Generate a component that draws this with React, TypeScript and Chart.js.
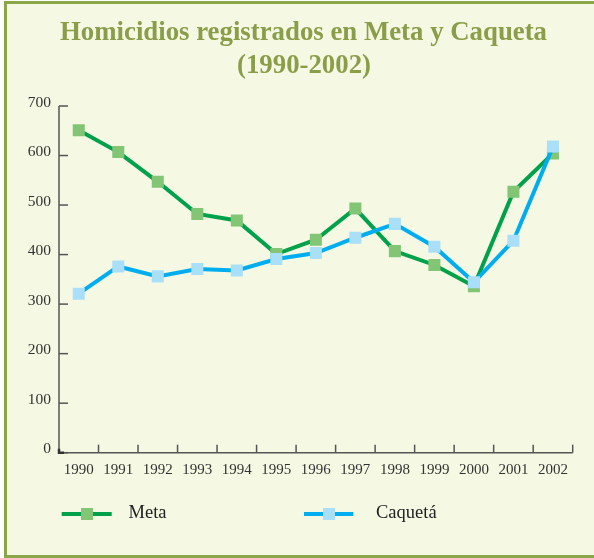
import React, { useEffect, useRef } from "react";
import { Chart, registerables } from "chart.js";

Chart.register(...registerables);

const years = ["1990", "1991", "1992", "1993", "1994", "1995", "1996", "1997", "1998", "1999", "2000", "2001", "2002"];
const metaValues = [651, 607, 547, 482, 469, 401, 430, 493, 407, 379, 336, 527, 604];
const caquetaValues = [321, 376, 356, 371, 368, 391, 403, 434, 462, 416, 344, 428, 618];
const titleLines = ["Homicidios registrados en Meta y Caqueta", "(1990-2002)"];
const seriesNames = ["Meta", "Caquetá"];

const META_LINE = "#00a14b";
const META_MARK = "#82c574";
const CAQ_LINE = "#00aeef";
const CAQ_MARK = "#aadff9";
const BG = "#f5f8e3";
const FRAME = "#8ba64a";
const TITLE = "#8a9e4a";
const AXIS = "#555555";

const decorPlugin = {
  id: "decor",
  beforeDraw(chart: any) {
    const ctx = chart.ctx;
    ctx.save();
    ctx.fillStyle = "#ffffff";
    ctx.fillRect(0, 0, chart.width, chart.height);
    ctx.fillStyle = BG;
    ctx.fillRect(4, 1, chart.width - 4, chart.height - 1);
    ctx.fillStyle = FRAME;
    ctx.fillRect(4, 1, chart.width - 4, 3);
    ctx.fillRect(4, 1, 3, chart.height - 1);
    ctx.fillRect(4, 555, chart.width - 4, 3);
    // title
    ctx.fillStyle = TITLE;
    ctx.font = 'bold 26.8px "Liberation Serif"';
    ctx.textAlign = "center";
    ctx.textBaseline = "alphabetic";
    ctx.fillText(titleLines[0], 303.5, 39.5);
    ctx.fillText(titleLines[1], 304, 73.3);
    ctx.restore();
  },
  beforeDatasetsDraw(chart: any) {
    const ctx = chart.ctx;
    const x = chart.scales.x;
    const y = chart.scales.y;
    const left = chart.chartArea.left;
    const right = chart.chartArea.right;
    const bottom = chart.chartArea.bottom;
    const top = chart.chartArea.top;
    ctx.save();
    ctx.strokeStyle = AXIS;
    ctx.lineWidth = 1.5;
    ctx.beginPath();
    ctx.moveTo(left, top);
    ctx.lineTo(left, bottom);
    ctx.lineTo(right, bottom);
    ctx.stroke();
    // y ticks inward
    y.ticks.forEach((t: any) => {
      const py = y.getPixelForValue(t.value);
      ctx.beginPath();
      ctx.moveTo(left, py);
      ctx.lineTo(left + 9, py);
      ctx.stroke();
    });
    // x ticks at category boundaries, upward
    const n = years.length;
    for (let i = 1; i <= n; i++) {
      const px = x.left + (i * x.width) / n;
      ctx.beginPath();
      ctx.moveTo(px, bottom);
      ctx.lineTo(px, bottom - 8);
      ctx.stroke();
    }
    ctx.lineWidth = 2.5;
    ctx.strokeStyle = "#333";
    ctx.beginPath();
    ctx.moveTo(left, bottom - 4);
    ctx.lineTo(left, bottom);
    ctx.lineTo(left + 5, bottom);
    ctx.stroke();
    ctx.restore();
  },
  afterDraw(chart: any) {
    const ctx = chart.ctx;
    ctx.save();
    const items = [
      { x1: 61.7, x2: 111.7, mx: 87, tx: 128.5, line: META_LINE, mark: META_MARK, label: seriesNames[0] },
      { x1: 304, x2: 353.3, mx: 329, tx: 376, line: CAQ_LINE, mark: CAQ_MARK, label: seriesNames[1] },
    ];
    const ly = 514;
    items.forEach((it) => {
      ctx.strokeStyle = it.line;
      ctx.lineWidth = 4;
      ctx.beginPath();
      ctx.moveTo(it.x1, ly);
      ctx.lineTo(it.x2, ly);
      ctx.stroke();
      ctx.fillStyle = it.mark;
      ctx.fillRect(it.mx - 6, ly - 6, 12, 12);
      ctx.fillStyle = "#222";
      ctx.font = '18.5px "Liberation Serif"';
      ctx.textAlign = "left";
      ctx.textBaseline = "alphabetic";
      ctx.fillText(it.label, it.tx, 517.5);
    });
    ctx.restore();
  },
};

export default function App() {
  const ref = useRef<HTMLCanvasElement | null>(null);
  useEffect(() => {
    document.body.style.margin = "0";
    const canvas = ref.current;
    if (!canvas) return;
    const chart = new Chart(canvas, {
      type: "line",
      data: {
        labels: years,
        datasets: [
          {
            label: seriesNames[0],
            data: metaValues,
            borderColor: META_LINE,
            borderWidth: 4,
            pointStyle: "rect",
            pointRadius: 8.5,
            pointHoverRadius: 8.5,
            pointBackgroundColor: META_MARK,
            pointBorderWidth: 0,
            pointBorderColor: META_MARK,
            tension: 0,
            order: 1,
          },
          {
            label: seriesNames[1],
            data: caquetaValues,
            borderColor: CAQ_LINE,
            borderWidth: 4,
            pointStyle: "rect",
            pointRadius: 8.5,
            pointHoverRadius: 8.5,
            pointBackgroundColor: CAQ_MARK,
            pointBorderWidth: 0,
            pointBorderColor: CAQ_MARK,
            tension: 0,
            order: 0,
          },
        ],
      },
      options: {
        animation: false,
        responsive: false,
        devicePixelRatio: 1,
        layout: { padding: { top: 106, right: 21.3, left: 0, bottom: 0 } },
        plugins: {
          legend: { display: false },
          title: { display: false },
          tooltip: { enabled: false },
        },
        scales: {
          x: {
            type: "category",
            offset: true,
            grid: { display: false, drawTicks: false },
            border: { display: false },
            ticks: {
              font: { family: "Liberation Serif", size: 15 },
              color: "#333",
              padding: 8,
              maxRotation: 0,
              autoSkip: false,
            },
            afterFit: (s: any) => {
              s.height = 105.3;
            },
          },
          y: {
            min: 0,
            max: 700,
            grid: { display: false, drawTicks: false },
            border: { display: false },
            ticks: {
              stepSize: 100,
              font: { family: "Liberation Serif", size: 15.5 },
              color: "#333",
              padding: 8,
              labelOffset: -3.5,
            },
            afterFit: (s: any) => {
              s.width = 59;
            },
          },
        },
      },
      plugins: [decorPlugin],
    });
    return () => chart.destroy();
  }, []);
  return (
    <div style={{ width: 594, height: 558 }}>
      <canvas ref={ref} width={594} height={558} style={{ display: "block" }} />
    </div>
  );
}
